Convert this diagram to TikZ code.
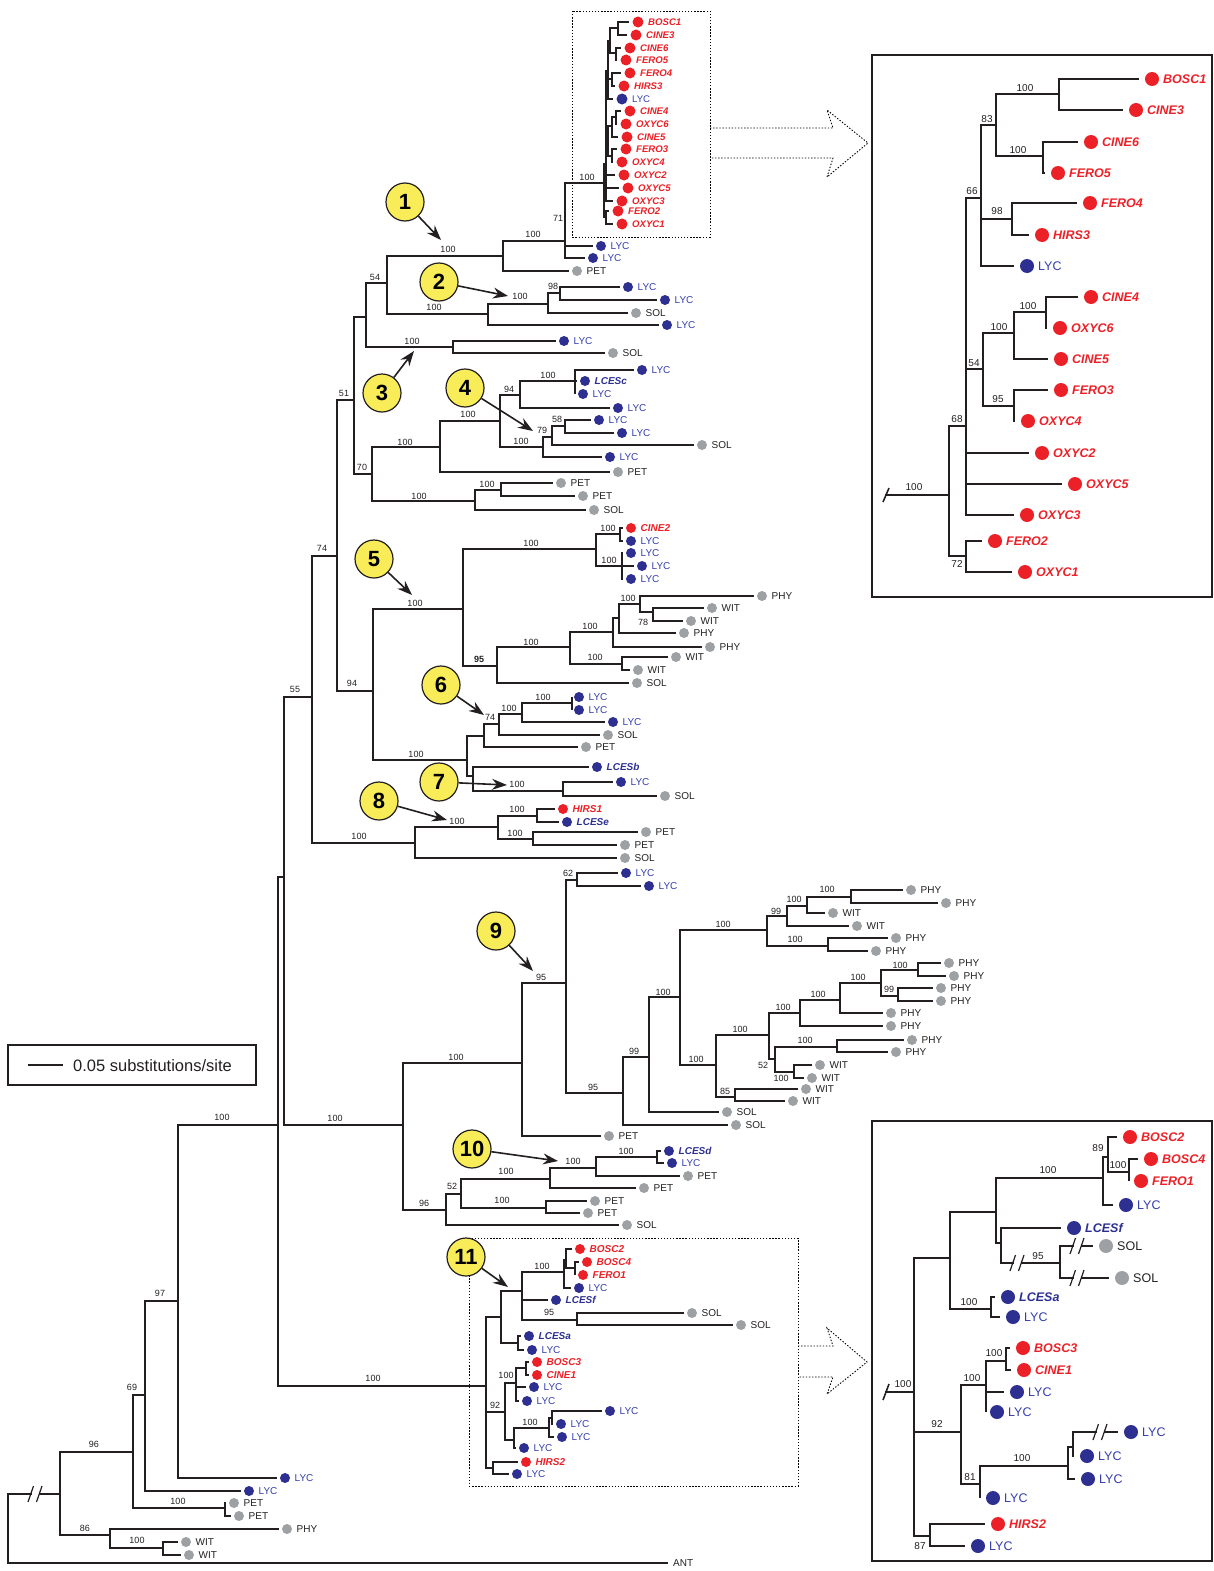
\documentclass[tikz,border=0pt]{standalone}
\usepackage{fontspec}
\setmainfont{Liberation Sans}
\usetikzlibrary{arrows.meta}
\definecolor{cred}{RGB}{236,32,39}
\definecolor{cblue}{RGB}{45,48,145}
\definecolor{cbluet}{RGB}{52,62,172}
\definecolor{cgray}{RGB}{158,161,164}
\definecolor{cdark}{RGB}{35,31,32}
\definecolor{cyel}{RGB}{248,237,88}
\newcounter{lc}
\newcommand\fs[1]{\fontsize{#1}{#1}\selectfont}
\def\dgap{8}\def\toff{9.5}\def\bsh{3.6}\def\dsz{10pt}\def\lfs{10}\def\nfs{9}\def\blw{1.4pt}
\tikzset{
  br/.style={line width=\blw, draw=cdark},
  num/.style={inner sep=0pt, font=\fs{\nfs}, text=cdark},
  dot/.style={circle, inner sep=0pt, minimum size=\dsz},
  lab/.style={anchor=base west, inner sep=0pt},
  dlyc/.style={fill=cblue}, dlces/.style={fill=cblue}, dred/.style={fill=cred}, dgr/.style={fill=cgray},
  tlyc/.style={text=cbluet, font=\fs{\lfs}},
  tlces/.style={text=cblue, font=\fs{\lfs}\bfseries\itshape},
  tred/.style={text=cred, font=\fs{\lfs}\bfseries\itshape},
  tgr/.style={text=cdark, font=\fs{\lfs}},
  dotbox/.style={draw=black, line width=0.9pt, dash pattern=on 1.4pt off 1.7pt},
  callout/.style={circle, draw=cdark, line width=1.2pt, fill=cyel, minimum size=38pt, inner sep=0pt, font=\fs{22}\bfseries, text=black},
  pointer/.style={line width=1.6pt, draw=cdark, -{Stealth[length=15pt,width=11pt,inset=5pt]}},
  frame/.style={draw=cdark, line width=1.3pt},
  tick/.style={draw=cdark, line width=1.6pt},
}
\newcommand\brn[4]{\draw[br] (#1,#2) |- (#3,#4);}
\newcommand\tleaf[6]{%
  \draw[br] (#1,#2) |- ({max(#1,#4-\dgap)},#3);
  \stepcounter{lc}%
  \node[dot,d#5] (d\arabic{lc}) at (#4,#3) {};
  \node[lab,t#5] (t\arabic{lc}) at ({#4+\toff},{#3+\bsh}) {#6};}
\newcommand\sv[3]{\stepcounter{lc}\node[num] (s\arabic{lc}) at (#1,#2) {#3};}
\newcommand\brk[2]{%
  \fill[white] ({#1-3.5},{#2-3}) rectangle ({#1+3.5},{#2+3});
  \draw[line width=1.2pt,draw=cdark] ({#1-7},{#2+8}) -- ({#1-1.5},{#2-8});
  \draw[line width=1.2pt,draw=cdark] ({#1+1.5},{#2+8}) -- ({#1+7},{#2-8});}
\newcommand\callout[6]{%
  \node[callout] (#1) at (#2,#3) {#4};
  \coordinate (#1t) at (#5,#6);
  \draw[pointer] (#1) -- (#1t);}

\begin{document}
\begin{tikzpicture}[x=1pt,y=-1pt]
\useasboundingbox (0,0) rectangle (1214,1571);
% ---------- dotted boxes and hollow arrows ----------
\draw[dotbox] (572,11) rectangle (710,237);
\draw[dotbox] (469,1238) rectangle (798,1486);
\draw[dotbox] (710,128) -- (833,128) -- (827,110) -- (868,143) -- (827,177) -- (833,158) -- (710,158);
\draw[dotbox] (798,1346) -- (833,1346) -- (827,1328) -- (867,1362) -- (827,1394) -- (833,1377) -- (798,1377);
% ---------- frames ----------
\draw[frame] (872,55) rectangle (1212,597);
\draw[frame] (872,1121) rectangle (1212,1561);
% ---------- legend ----------
\draw[frame] (8,1045) rectangle (256,1085);
\coordinate (sb1) at (28,1065); \coordinate (sb2) at (63,1065);
\draw[br] (sb1) -- (sb2);
\node[lab, font=\fs{16.5}, text=cdark] (legend) at (73,1071) {0.05 substitutions/site};

% ---------- root and bottom-left ----------
\draw[br] (60,1494) -- (8,1494) -- (8,1563) -- (668,1563);
\brk{35}{1494}
\node[lab,tgr] (ant) at (673,1566.6) {ANT};
\brn{60}{1494}{133}{1452} \brn{60}{1494}{110}{1535}
\sv{94}{1444}{96} \sv{85}{1528}{86}
\tleaf{110}{1535}{1529}{287}{gr}{PHY}
\brn{110}{1535}{163}{1548} \sv{137}{1540}{100}
\tleaf{163}{1548}{1542}{186}{gr}{WIT}
\tleaf{163}{1548}{1555}{189}{gr}{WIT}
\brn{133}{1452}{145}{1395} \brn{133}{1452}{225}{1508}
\sv{132}{1387}{69} \sv{178}{1501}{100}
\tleaf{225}{1508}{1503}{234}{gr}{PET}
\tleaf{225}{1508}{1516}{239}{gr}{PET}
\brn{145}{1395}{178}{1301} \sv{160}{1293}{97}
\tleaf{145}{1395}{1491}{249}{lyc}{LYC}
\brn{178}{1301}{278}{1125} \sv{222}{1117}{100}
\tleaf{178}{1301}{1478}{285}{lyc}{LYC}

% ---------- backbone ----------
\brn{278}{1125}{284}{877} \brn{278}{1125}{486}{1386} \sv{373}{1378}{100}
\brn{284}{877}{312}{697} \brn{284}{877}{403}{1125}
\sv{295}{689}{55} \sv{335}{1118}{100}
\brn{312}{697}{337}{556} \brn{312}{697}{415}{843}
\sv{322}{548}{74} \sv{359}{836}{100}
\brn{337}{556}{354}{400} \brn{337}{556}{373}{691}
\sv{344}{393}{51} \sv{352}{683}{94}
\brn{354}{400}{366}{317} \brn{354}{400}{372}{474} \sv{362}{467}{70}
\brn{366}{317}{387}{283} \brn{366}{317}{453}{347}
\sv{375}{277}{54} \sv{412}{341}{100}
\brn{387}{283}{503}{256} \brn{387}{283}{488}{314}
\sv{448}{249}{100} \sv{434}{307}{100}

% ---------- clade 1 ----------
\brn{503}{256}{565}{241} \sv{533}{234}{100}
\tleaf{503}{256}{271}{577}{gr}{PET}
\brn{565}{241}{604}{183} \sv{587}{177}{100} \sv{558}{218}{71}
\tleaf{565}{241}{246}{601}{lyc}{LYC}
\tleaf{565}{241}{258}{593}{lyc}{LYC}
\begin{scope}
\def\lfs{9.6}\def\bsh{3.4}\def\toff{10}\def\dsz{11pt}\def\dgap{9}
\brn{604}{183}{606}{164} \brn{604}{183}{606}{217}
\brn{606}{164}{608}{71} \brn{606}{164}{608}{141}
\tleaf{606}{164}{175}{624}{red}{OXYC2}
\tleaf{606}{164}{188}{628}{red}{OXYC5}
\tleaf{606}{164}{201}{622}{red}{OXYC3}
\tleaf{606}{217}{211}{618}{red}{FERO2}
\tleaf{606}{217}{224}{622}{red}{OXYC1}
\brn{608}{71}{610}{41} \brn{608}{71}{612}{79}
\tleaf{608}{71}{99}{622}{lyc}{LYC}
\brn{610}{41}{618}{28} \brn{610}{41}{616}{53}
\tleaf{618}{28}{22}{638}{red}{BOSC1}
\tleaf{618}{28}{35}{636}{red}{CINE3}
\tleaf{616}{53}{48}{630}{red}{CINE6}
\tleaf{616}{53}{60}{626}{red}{FERO5}
\tleaf{612}{79}{73}{630}{red}{FERO4}
\tleaf{612}{79}{86}{624}{red}{HIRS3}
\brn{608}{141}{612}{126} \brn{608}{141}{612}{156}
\brn{612}{126}{616}{117}
\tleaf{612}{126}{137}{627}{red}{CINE5}
\tleaf{616}{117}{111}{630}{red}{CINE4}
\tleaf{616}{117}{124}{626}{red}{OXYC6}
\tleaf{612}{156}{149}{626}{red}{FERO3}
\tleaf{612}{156}{162}{622}{red}{OXYC4}
\end{scope}

% ---------- clade 2 ----------
\brn{488}{314}{548}{304} \sv{520}{296}{100}
\tleaf{488}{314}{325}{667}{lyc}{LYC}
\brn{548}{304}{560}{293} \sv{553}{286}{98}
\tleaf{548}{304}{313}{636}{gr}{SOL}
\tleaf{560}{293}{287}{628}{lyc}{LYC}
\tleaf{560}{293}{300}{665}{lyc}{LYC}
% ---------- clade 3 ----------
\tleaf{453}{347}{341}{564}{lyc}{LYC}
\tleaf{453}{347}{353}{613}{gr}{SOL}
% ---------- clade 4 ----------
\brn{372}{474}{440}{447} \brn{372}{474}{475}{501}
\sv{405}{442}{100} \sv{419}{496}{100}
\brn{440}{447}{500}{421} \sv{468}{414}{100}
\tleaf{440}{447}{472}{618}{gr}{PET}
\brn{500}{421}{520}{395} \brn{500}{421}{543}{447}
\sv{509}{389}{94} \sv{521}{441}{100}
\brn{520}{395}{575}{381} \sv{548}{375}{100}
\tleaf{520}{395}{408}{618}{lyc}{LYC}
\tleaf{575}{381}{370}{642}{lyc}{LYC}
\tleaf{575}{381}{381}{585}{lces}{LCESc}
\tleaf{575}{381}{394}{583}{lyc}{LYC}
\brn{543}{447}{552}{437} \sv{542}{430}{79}
\tleaf{543}{447}{457}{610}{lyc}{LYC}
\brn{552}{437}{565}{426} \sv{557}{419}{58}
\tleaf{552}{437}{445}{702}{gr}{SOL}
\tleaf{565}{426}{420}{599}{lyc}{LYC}
\tleaf{565}{426}{433}{622}{lyc}{LYC}
\brn{475}{501}{501}{490} \sv{487}{484}{100}
\tleaf{475}{501}{510}{594}{gr}{SOL}
\tleaf{501}{490}{483}{561}{gr}{PET}
\tleaf{501}{490}{496}{583}{gr}{PET}

% ---------- clades 5-7 ----------
\brn{373}{691}{463}{609} \brn{373}{691}{467}{760}
\sv{415}{603}{100} \sv{416}{754}{100}
\brn{463}{609}{596}{549} \brn{463}{609}{497}{666}
\sv{531}{543}{100} \sv{479}{659}{\textbf{95}}
\brn{596}{549}{620}{534} \brn{596}{549}{622}{566}
\sv{608}{528}{100} \sv{609}{560}{100}
\tleaf{620}{534}{528}{631}{red}{CINE2}
\tleaf{620}{534}{541}{631}{lyc}{LYC}
\tleaf{622}{566}{553}{631}{lyc}{LYC}
\tleaf{622}{566}{566}{642}{lyc}{LYC}
\tleaf{622}{566}{579}{631}{lyc}{LYC}
\tleaf{497}{666}{683}{637}{gr}{SOL}
\brn{497}{666}{570}{647} \sv{531}{642}{100}
\brn{570}{647}{613}{632} \brn{570}{647}{622}{664}
\sv{590}{626}{100} \sv{595}{657}{100}
\brn{613}{632}{619}{618}
\tleaf{613}{632}{647}{710}{gr}{PHY}
\brn{619}{618}{640}{604} \sv{628}{598}{100}
\tleaf{619}{618}{633}{684}{gr}{PHY}
\tleaf{640}{604}{596}{762}{gr}{PHY}
\brn{640}{604}{653}{612} \sv{643}{622}{78}
\tleaf{653}{612}{608}{712}{gr}{WIT}
\tleaf{653}{612}{621}{691}{gr}{WIT}
\tleaf{622}{664}{657}{676}{gr}{WIT}
\tleaf{622}{664}{670}{638}{gr}{WIT}
\brn{467}{760}{484}{736} \brn{467}{760}{473}{776}
\brn{484}{736}{499}{724} \sv{490}{717}{74}
\tleaf{484}{736}{747}{586}{gr}{PET}
\brn{499}{724}{522}{714} \sv{509}{708}{100}
\tleaf{499}{724}{735}{608}{gr}{SOL}
\brn{522}{714}{572}{703} \sv{543}{697}{100}
\tleaf{522}{714}{722}{613}{lyc}{LYC}
\tleaf{572}{703}{697}{579}{lyc}{LYC}
\tleaf{572}{703}{710}{579}{lyc}{LYC}
\tleaf{473}{776}{767}{597}{lces}{LCESb}
\brn{473}{776}{563}{791} \sv{517}{784}{100}
\tleaf{563}{791}{782}{621}{lyc}{LYC}
\tleaf{563}{791}{796}{665}{gr}{SOL}
% ---------- clade 8 ----------
\brn{415}{843}{498}{827} \sv{457}{821}{100}
\tleaf{415}{843}{858}{625}{gr}{SOL}
\brn{498}{827}{537}{816} \brn{498}{827}{533}{839}
\sv{517}{809}{100} \sv{515}{833}{100}
\tleaf{537}{816}{809}{563}{red}{HIRS1}
\tleaf{537}{816}{822}{567}{lces}{LCESe}
\tleaf{533}{839}{832}{646}{gr}{PET}
\tleaf{533}{839}{845}{625}{gr}{PET}

% ---------- clade 9 ----------
\brn{403}{1125}{522}{1063} \brn{403}{1125}{446}{1210}
\sv{456}{1057}{100} \sv{424}{1203}{96}
\brn{522}{1063}{566}{983} \sv{541}{977}{95}
\tleaf{522}{1063}{1136}{609}{gr}{PET}
\brn{566}{983}{577}{880} \brn{566}{983}{623}{1093}
\sv{568}{873}{62} \sv{593}{1087}{95}
\tleaf{577}{880}{873}{626}{lyc}{LYC}
\tleaf{577}{880}{886}{649}{lyc}{LYC}
\brn{623}{1093}{649}{1057} \sv{634}{1051}{99}
\tleaf{623}{1093}{1125}{736}{gr}{SOL}
\brn{649}{1057}{680}{997} \sv{663}{992}{100}
\tleaf{649}{1057}{1112}{727}{gr}{SOL}
\brn{680}{997}{767}{930} \brn{680}{997}{716}{1065}
\sv{723}{924}{100} \sv{696}{1059}{100}
\brn{767}{930}{787}{916} \brn{767}{930}{828}{946}
\sv{776}{911}{99} \sv{795}{939}{100}
\brn{787}{916}{807}{906} \sv{794}{899}{100}
\tleaf{787}{916}{926}{857}{gr}{WIT}
\brn{807}{906}{851}{897} \sv{827}{889}{100}
\tleaf{807}{906}{913}{833}{gr}{WIT}
\tleaf{851}{897}{890}{911}{gr}{PHY}
\tleaf{851}{897}{903}{946}{gr}{PHY}
\tleaf{828}{946}{938}{896}{gr}{PHY}
\tleaf{828}{946}{951}{876}{gr}{PHY}
\brn{716}{1065}{769}{1035} \brn{716}{1065}{735}{1097}
\sv{740}{1029}{100} \sv{725}{1091}{85}
\tleaf{735}{1097}{1089}{806}{gr}{WIT}
\tleaf{735}{1097}{1101}{793}{gr}{WIT}
\brn{769}{1035}{800}{1013} \brn{769}{1035}{775}{1059}
\sv{783}{1007}{100} \sv{763}{1065}{52}
\brn{775}{1059}{837}{1047} \brn{775}{1059}{794}{1072}
\sv{805}{1040}{100} \sv{781}{1078}{100}
\tleaf{837}{1047}{1040}{912}{gr}{PHY}
\tleaf{837}{1047}{1052}{896}{gr}{PHY}
\tleaf{794}{1072}{1065}{820}{gr}{WIT}
\tleaf{794}{1072}{1078}{812}{gr}{WIT}
\brn{800}{1013}{840}{1000} \sv{818}{994}{100}
\tleaf{800}{1013}{1026}{891}{gr}{PHY}
\brn{840}{1000}{881}{983} \sv{858}{977}{100}
\tleaf{840}{1000}{1013}{891}{gr}{PHY}
\brn{881}{983}{918}{970} \brn{881}{983}{898}{996}
\sv{900}{965}{100} \sv{889}{989}{99}
\tleaf{918}{970}{963}{949}{gr}{PHY}
\tleaf{918}{970}{976}{954}{gr}{PHY}
\tleaf{898}{996}{988}{941}{gr}{PHY}
\tleaf{898}{996}{1001}{941}{gr}{PHY}

% ---------- clade 10 ----------
\brn{446}{1210}{461}{1194} \sv{452}{1186}{52}
\tleaf{446}{1210}{1225}{627}{gr}{SOL}
\brn{461}{1194}{550}{1179} \brn{461}{1194}{546}{1208}
\sv{506}{1171}{100} \sv{502}{1200}{100}
\brn{550}{1179}{596}{1168} \sv{573}{1161}{100}
\tleaf{550}{1179}{1188}{644}{gr}{PET}
\brn{596}{1168}{657}{1157} \sv{626}{1151}{100}
\tleaf{596}{1168}{1176}{688}{gr}{PET}
\tleaf{657}{1157}{1151}{669}{lces}{LCESd}
\tleaf{657}{1157}{1163}{672}{lyc}{LYC}
\tleaf{546}{1208}{1201}{595}{gr}{PET}
\tleaf{546}{1208}{1213}{588}{gr}{PET}

% ---------- clade 11 ----------
\brn{486}{1386}{501}{1317} \brn{486}{1386}{505}{1412} \brn{486}{1386}{493}{1468}
\sv{495}{1405}{92}
\brn{501}{1317}{522}{1291} \brn{501}{1317}{518}{1343}
\tleaf{518}{1343}{1336}{529}{lces}{LCESa}
\tleaf{518}{1343}{1350}{532}{lyc}{LYC}
\brn{522}{1291}{564}{1272} \sv{542}{1266}{100}
\tleaf{522}{1291}{1300}{556}{lces}{LCESf}
\brn{522}{1291}{577}{1320} \sv{549}{1312}{95}
\tleaf{577}{1320}{1313}{692}{gr}{SOL}
\tleaf{577}{1320}{1325}{741}{gr}{SOL}
\brn{564}{1272}{566}{1260}
\tleaf{564}{1272}{1288}{579}{lyc}{LYC}
\tleaf{566}{1260}{1249}{580}{red}{BOSC2}
\brn{566}{1260}{575}{1268}
\tleaf{575}{1268}{1262}{587}{red}{BOSC4}
\tleaf{575}{1268}{1275}{583}{red}{FERO1}
\brn{505}{1412}{516}{1383} \brn{505}{1412}{514}{1440}
\sv{506}{1375}{100}
\brn{516}{1383}{526}{1368}
\tleaf{526}{1368}{1362}{537}{red}{BOSC3}
\tleaf{526}{1368}{1375}{537}{red}{CINE1}
\tleaf{516}{1383}{1387}{534}{lyc}{LYC}
\tleaf{516}{1383}{1401}{527}{lyc}{LYC}
\brn{514}{1440}{549}{1428} \sv{530}{1422}{100}
\tleaf{514}{1440}{1448}{524}{lyc}{LYC}
\brn{549}{1428}{552}{1418}
\tleaf{552}{1418}{1411}{610}{lyc}{LYC}
\tleaf{552}{1418}{1424}{561}{lyc}{LYC}
\tleaf{549}{1428}{1437}{562}{lyc}{LYC}
\tleaf{493}{1468}{1462}{526}{red}{HIRS2}
\tleaf{493}{1468}{1474}{517}{lyc}{LYC}

% ---------- top right enlarged box ----------
\begin{scope}
\def\lfs{12.5}\def\bsh{4.5}\def\toff{11}\def\dsz{14pt}\def\dgap{13}\def\blw{1.9pt}\def\nfs{10}
\draw[br] (885,495) -- (949,495);
\draw[tick] (883,502) -- (889,488);
\sv{914}{487}{100}
\brn{949}{495}{966}{426} \brn{949}{495}{966}{556}
\sv{957}{419}{68} \sv{957}{564}{72}
\brn{966}{426}{981}{198} \brn{966}{426}{983}{369}
\tleaf{966}{426}{453}{1042}{red}{OXYC2}
\tleaf{966}{426}{484}{1075}{red}{OXYC5}
\tleaf{966}{426}{515}{1027}{red}{OXYC3}
\sv{972}{191}{66} \sv{974}{363}{54}
\tleaf{966}{556}{541}{995}{red}{FERO2}
\tleaf{966}{556}{572}{1025}{red}{OXYC1}
\brn{981}{198}{996}{125} \brn{981}{198}{1012}{219}
\tleaf{981}{198}{266}{1027}{lyc}{LYC}
\sv{987}{119}{83} \sv{997}{211}{98}
\brn{996}{125}{1059}{94} \brn{996}{125}{1043}{156}
\sv{1025}{88}{100} \sv{1018}{150}{100}
\tleaf{1059}{94}{79}{1152}{red}{BOSC1}
\tleaf{1059}{94}{110}{1136}{red}{CINE3}
\tleaf{1043}{156}{142}{1091}{red}{CINE6}
\tleaf{1043}{156}{173}{1058}{red}{FERO5}
\tleaf{1012}{219}{203}{1090}{red}{FERO4}
\tleaf{1012}{219}{235}{1042}{red}{HIRS3}
\brn{983}{369}{1014}{333} \brn{983}{369}{1014}{406}
\sv{999}{327}{100} \sv{998}{399}{95}
\brn{1014}{333}{1046}{312} \sv{1028}{306}{100}
\tleaf{1014}{333}{359}{1061}{red}{CINE5}
\tleaf{1046}{312}{297}{1091}{red}{CINE4}
\tleaf{1046}{312}{328}{1060}{red}{OXYC6}
\tleaf{1014}{406}{390}{1061}{red}{FERO3}
\tleaf{1014}{406}{421}{1028}{red}{OXYC4}
\end{scope}

% ---------- bottom right enlarged box ----------
\begin{scope}
\def\lfs{12.5}\def\bsh{4.5}\def\toff{11}\def\dsz{14pt}\def\dgap{13}\def\blw{1.9pt}\def\nfs{10}
\draw[br] (885,1392) -- (914,1392);
\draw[tick] (883,1400) -- (889,1384);
\sv{903}{1384}{100}
\brn{914}{1392}{950}{1258} \brn{914}{1392}{961}{1432} \brn{914}{1392}{930}{1536}
\sv{937}{1424}{92} \sv{920}{1546}{87}
\brn{950}{1258}{996}{1212} \brn{950}{1258}{991}{1309} \sv{969}{1302}{100}
\tleaf{991}{1309}{1297}{1008}{lces}{LCESa}
\tleaf{991}{1309}{1317}{1013}{lyc}{LYC}
\brn{996}{1212}{1103}{1178} \brn{996}{1212}{1001}{1243} \sv{1048}{1170}{100}
\tleaf{1001}{1243}{1228}{1074}{lces}{LCESf}
\brn{1001}{1243}{1060}{1263} \brk{1017}{1263} \sv{1038}{1256}{95}
\tleaf{1060}{1263}{1246}{1106}{gr}{SOL} \brk{1077}{1246}
\tleaf{1060}{1263}{1278}{1122}{gr}{SOL} \brk{1077}{1278}
\brn{1103}{1178}{1108}{1157} \sv{1098}{1148}{89}
\tleaf{1103}{1178}{1205}{1126}{lyc}{LYC}
\tleaf{1108}{1157}{1137}{1130}{red}{BOSC2}
\brn{1108}{1157}{1129}{1172} \sv{1118}{1165}{100}
\tleaf{1129}{1172}{1159}{1151}{red}{BOSC4}
\tleaf{1129}{1172}{1181}{1141}{red}{FERO1}
\brn{961}{1432}{986}{1385} \brn{961}{1432}{980}{1484} \sv{972}{1378}{100} \sv{970}{1477}{81}
\brn{986}{1385}{1006}{1361} \sv{994}{1353}{100}
\tleaf{986}{1385}{1392}{1017}{lyc}{LYC}
\tleaf{986}{1385}{1412}{997}{lyc}{LYC}
\tleaf{1006}{1361}{1348}{1023}{red}{BOSC3}
\tleaf{1006}{1361}{1370}{1024}{red}{CINE1}
\brn{980}{1484}{1068}{1466} \sv{1022}{1458}{100}
\tleaf{980}{1484}{1498}{993}{lyc}{LYC}
\brn{1068}{1466}{1073}{1447}
\tleaf{1068}{1466}{1479}{1088}{lyc}{LYC}
\tleaf{1073}{1447}{1432}{1131}{lyc}{LYC} \brk{1100}{1432}
\tleaf{1073}{1447}{1456}{1087}{lyc}{LYC}
\tleaf{930}{1536}{1524}{998}{red}{HIRS2}
\tleaf{930}{1536}{1546}{978}{lyc}{LYC}
\end{scope}

% ---------- callouts ----------
\callout{c1}{405}{202}{1}{441}{240}
\callout{c2}{439}{282}{2}{508}{296}
\callout{c3}{382}{393}{3}{414}{351}
\callout{c4}{465}{388}{4}{533}{431}
\callout{c5}{374}{559}{5}{412}{595}
\callout{c6}{441}{685}{6}{484}{715}
\callout{c7}{439}{782}{7}{507}{785}
\callout{c8}{379}{801}{8}{447}{820}
\callout{c9}{496}{931}{9}{533}{971}
\callout{c10}{472}{1149}{10}{558}{1161}
\callout{c11}{466}{1257}{11}{508}{1287}
\end{tikzpicture}
\end{document}
